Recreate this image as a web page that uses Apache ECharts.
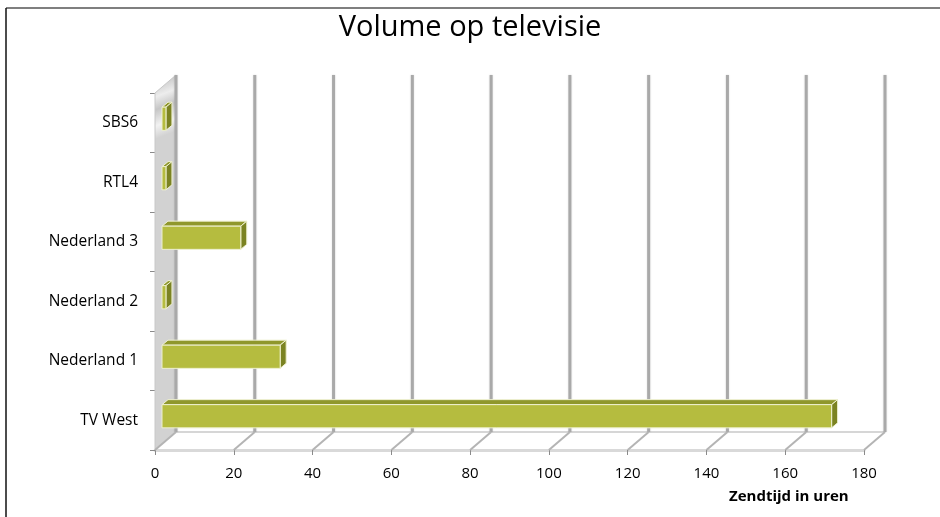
<!DOCTYPE html>
<html>
<head>
<meta charset="utf-8">
<script src="https://cdn.jsdelivr.net/npm/echarts@6/dist/echarts.min.js"></script>
<style>
  html, body { margin: 0; padding: 0; background: #fff; }
  #chart { width: 940px; height: 517px; }
</style>
</head>
<body>
<div id="chart"></div>
<script>
  // data
  var categories = ['TV West', 'Nederland 1', 'Nederland 2', 'Nederland 3', 'RTL4', 'SBS6'];
  var uren = [170, 30, 1, 20, 1, 1];
  var xTicks = [0, 20, 40, 60, 80, 100, 120, 140, 160, 180];

  // 3d look: offset of the back wall and of the boxes
  var DX = 21, DY = -18;
  var BX = 7, BY = -4, BD = 6, BDY = -5;
  var FONT = 'Open Sans';

  var myChart = echarts.init(document.getElementById('chart'));

  function renderFrame(params, api) {
    var cs = params.coordSys;
    var v = api.value(0);
    var x = api.coord([v, 0])[0];
    var yt = cs.y, yb = cs.y + cs.height;
    var children = [];
    if (params.dataIndex === 0) {
      var xEnd = api.coord([xTicks[xTicks.length - 1], 0])[0];
      // left wall
      children.push({
        type: 'polygon',
        shape: { points: [[x, yt], [x + DX, yt + DY], [x + DX, yb + DY], [x, yb]] },
        style: {
          fill: new echarts.graphic.LinearGradient(0, 0, 1, 0.15, [
            { offset: 0, color: '#b4b4b4' },
            { offset: 0.35, color: '#ededed' },
            { offset: 0.55, color: '#c6c6c6' },
            { offset: 0.8, color: '#f2f2f2' },
            { offset: 1, color: '#d2d2d2' }
          ]),
          stroke: '#c8c8c8', lineWidth: 1
        }
      });
      // floor back edge
      children.push({
        type: 'line',
        shape: { x1: x + DX, y1: yb + DY, x2: xEnd + DX, y2: yb + DY },
        style: { stroke: '#d6d6d6', lineWidth: 2 }
      });
    }
    // back wall gridline
    children.push({
      type: 'line',
      shape: { x1: x + DX, y1: yt + DY, x2: x + DX, y2: yb + DY },
      style: { stroke: '#a9a9a9', lineWidth: 3, shadowBlur: 2, shadowColor: 'rgba(0,0,0,0.15)' }
    });
    // floor gridline
    children.push({
      type: 'line',
      shape: { x1: x, y1: yb, x2: x + DX, y2: yb + DY },
      style: { stroke: '#b4b4b4', lineWidth: 2 }
    });
    return { type: 'group', children: children };
  }

  function renderBar(params, api) {
    var v = api.value(0), idx = api.value(1);
    var p0 = api.coord([0, idx]), p1 = api.coord([v, idx]);
    var h = api.size([0, 1])[1] * 0.39;
    var x1 = p0[0] + BX, x2 = p1[0] + BX, yc = p0[1] + BY;
    var t = yc - h / 2, b = yc + h / 2;
    var edge = '#eef0cf';
    return {
      type: 'group',
      children: [
        {
          type: 'polygon',
          shape: { points: [[x1, t], [x2, t], [x2 + BD, t + BDY], [x1 + BD, t + BDY]] },
          style: { fill: '#8f972c', stroke: edge, lineWidth: 1 }
        },
        {
          type: 'polygon',
          shape: { points: [[x2, t], [x2 + BD, t + BDY], [x2 + BD, b + BDY], [x2, b]] },
          style: { fill: '#7b8322', stroke: edge, lineWidth: 1 }
        },
        {
          type: 'rect',
          shape: { x: x1, y: t, width: x2 - x1, height: b - t },
          style: { fill: '#b5bc3f', stroke: edge, lineWidth: 1 }
        }
      ]
    };
  }

  var option = {
    animation: false,
    backgroundColor: '#fff',
    title: {
      text: 'Volume op televisie',
      left: 'center',
      top: 8,
      textStyle: { fontFamily: FONT, fontSize: 29, fontWeight: 'normal', color: '#000' }
    },
    grid: { left: 155, right: 76, top: 93, bottom: 67 },
    xAxis: {
      type: 'value',
      min: 0,
      max: 180,
      interval: 20,
      axisLine: { show: true, lineStyle: { color: '#d9d9d9', width: 3 } },
      axisTick: { show: true, length: 5, lineStyle: { color: '#8a8a8a' } },
      axisLabel: { margin: 16, fontFamily: FONT, fontSize: 15, color: '#000' },
      splitLine: { show: false }
    },
    yAxis: {
      type: 'category',
      data: categories,
      axisLine: { show: true, lineStyle: { color: '#a8a8a8', width: 1 } },
      axisTick: { show: true, length: 5, lineStyle: { color: '#8a8a8a' } },
      axisLabel: { margin: 17, fontFamily: FONT, fontSize: 15.5, color: '#000' },
      splitLine: { show: false }
    },
    graphic: [
      {
        type: 'line',
        silent: true,
        shape: { x1: 6, y1: 8, x2: 940, y2: 8 },
        style: { stroke: '#555', lineWidth: 1.5 }
      },
      {
        type: 'line',
        silent: true,
        shape: { x1: 6, y1: 8, x2: 6, y2: 517 },
        style: { stroke: '#111', lineWidth: 1.5 }
      },
      {
        type: 'text',
        left: 729, top: 489,
        style: { text: 'Zendtijd in uren', font: 'bold 15px "Open Sans"', fill: '#000' }
      }
    ],
    series: [
      {
        type: 'custom',
        name: 'frame',
        silent: true,
        z: 1,
        encode: { x: 0, y: 1 },
        data: xTicks.map(function (v) { return [v, 0]; }),
        renderItem: renderFrame
      },
      {
        type: 'custom',
        name: 'Zendtijd',
        z: 3,
        encode: { x: 0, y: 1 },
        data: uren.map(function (v, i) { return [v, i]; }),
        renderItem: renderBar
      }
    ]
  };
  myChart.setOption(option);
</script>
</body>
</html>
